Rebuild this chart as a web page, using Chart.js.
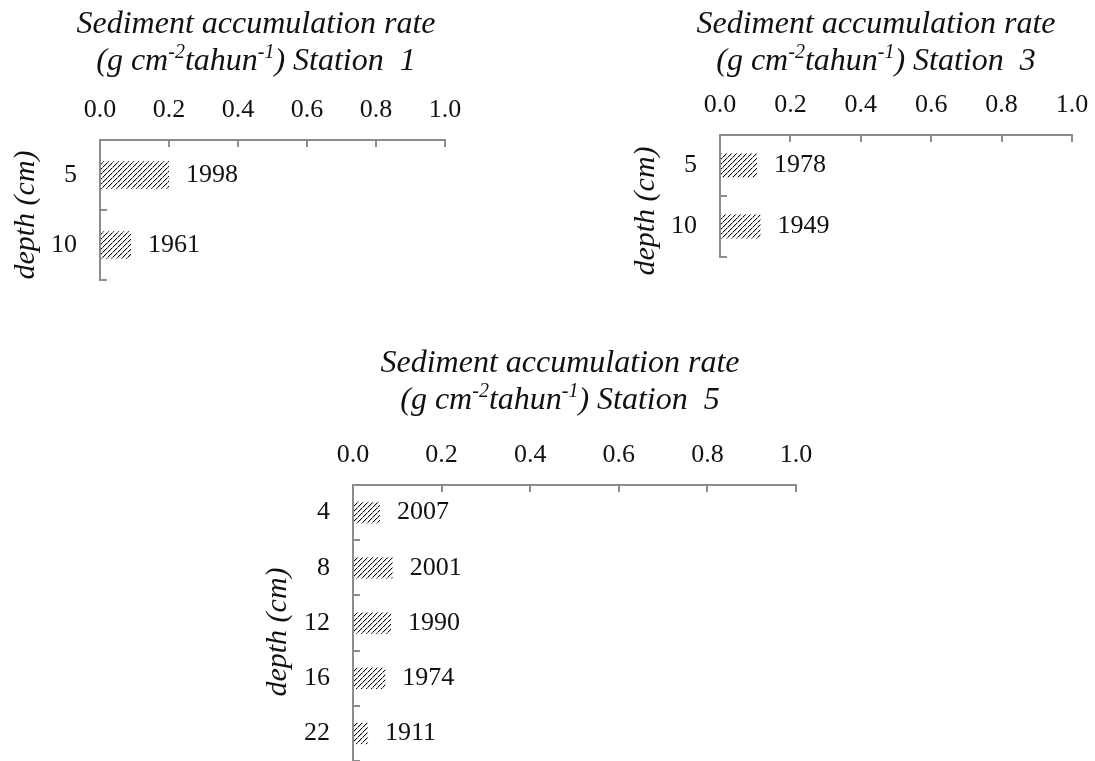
<!DOCTYPE html>
<html><head><meta charset="utf-8">
<script src="https://cdn.jsdelivr.net/npm/chart.js@4.4.1/dist/chart.umd.min.js"></script>
<style>
html,body{margin:0;padding:0;background:#fff;overflow:hidden;width:1095px;height:761px;}
canvas{position:absolute;left:0;top:0;}
</style></head><body>
<canvas id="c1" width="1095" height="761"></canvas>
<canvas id="c3" width="1130" height="761"></canvas>
<canvas id="c5" width="1095" height="830"></canvas>
<script>
// ---- data ----
const rateTickValues = [0.0, 0.2, 0.4, 0.6, 0.8, 1.0];
const st1Depths = ['5', '10'];
const st1Rates  = [0.20, 0.09];
const st1Years  = ['1998', '1961'];
const st3Depths = ['5', '10'];
const st3Rates  = [0.105, 0.115];
const st3Years  = ['1978', '1949'];
const st5Depths = ['4', '8', '12', '16', '22'];
const st5Rates  = [0.061, 0.090, 0.086, 0.073, 0.034];
const st5Years  = ['2007', '2001', '1990', '1974', '1911'];

const SERIF = "'Liberation Serif', 'Times New Roman', serif";
const AXIS = '#8c8c8c';
const INK = '#111111';

function hatchFor(ctx) {
  const c = document.createElement('canvas');
  c.width = 5; c.height = 5;
  const g = c.getContext('2d');
  g.fillStyle = '#fff'; g.fillRect(0, 0, 5, 5);
  for (let i = 0; i < 5; i++) {
    g.fillStyle = (i === 2) ? 'rgba(0,0,0,0.55)' : '#000';
    g.fillRect(i, 4 - i, 1, 1);
    g.fillStyle = 'rgba(0,0,0,0.18)';
    g.fillRect(i, (5 - i) % 5, 1, 1);
  }
  return ctx.createPattern(c, 'repeat');
}

const richTitle = {
  id: 'richTitle',
  afterDraw(chart, args, o) {
    const ctx = chart.ctx;
    ctx.save();
    ctx.fillStyle = INK;
    ctx.textBaseline = 'alphabetic';
    ctx.textAlign = 'left';
    const f = (sup) => `italic ${sup ? Math.round(o.size * 0.62) : o.size}px ${SERIF}`;
    o.lines.forEach((segs, i) => {
      let total = 0;
      segs.forEach(s => { ctx.font = f(s.sup); total += ctx.measureText(s.t).width; });
      let x = o.x - total / 2;
      const y = o.y + i * o.gap;
      segs.forEach(s => {
        ctx.font = f(s.sup);
        ctx.fillText(s.t, x, s.sup ? y - o.size * 0.36 : y);
        x += ctx.measureText(s.t).width;
      });
    });
    ctx.restore();
  }
};

const sideTitle = {
  id: 'sideTitle',
  afterDraw(chart, args, o) {
    const ctx = chart.ctx;
    ctx.save();
    ctx.translate(o.x, o.y);
    ctx.rotate(-Math.PI / 2);
    ctx.font = `italic ${o.size}px ${SERIF}`;
    ctx.fillStyle = INK;
    ctx.textAlign = 'center';
    ctx.textBaseline = 'middle';
    ctx.fillText(o.text, 0, 0);
    ctx.restore();
  }
};

const yearLabels = {
  id: 'yearLabels',
  afterDatasetsDraw(chart, args, o) {
    const ctx = chart.ctx;
    const meta = chart.getDatasetMeta(0);
    ctx.save();
    ctx.font = `${o.size}px ${SERIF}`;
    ctx.fillStyle = INK;
    ctx.textAlign = 'left';
    ctx.textBaseline = 'middle';
    meta.data.forEach((bar, i) => ctx.fillText(o.labels[i], bar.x + o.gap, bar.y));
    ctx.restore();
  }
};

function makeChart(id, depths, rates, years, station, g) {
  const canvas = document.getElementById(id);
  const ctx = canvas.getContext('2d');
  return new Chart(ctx, {
    type: 'bar',
    data: {
      labels: depths,
      datasets: [{
        data: rates,
        backgroundColor: hatchFor(ctx),
        borderWidth: 0,
        barPercentage: 0.39,
        categoryPercentage: 1.0
      }]
    },
    options: {
      indexAxis: 'y',
      responsive: false,
      animation: false,
      devicePixelRatio: 1,
      layout: { padding: g.padding },
      scales: {
        x: {
          position: 'top',
          min: 0, max: 1,
          afterBuildTicks: (s) => { s.ticks = rateTickValues.map(v => ({ value: v })); },
          afterFit: (s) => { s.height = 60; },
          ticks: {
            callback: (v) => Number(v).toFixed(1),
            font: { family: SERIF, size: 26 },
            color: INK,
            padding: 21,
            maxRotation: 0
          },
          grid: { drawOnChartArea: false, drawTicks: true, tickLength: -7, color: AXIS, lineWidth: 2 },
          border: { display: true, color: AXIS, width: 2 }
        },
        y: {
          afterFit: (s) => { s.width = 60; },
          ticks: {
            font: { family: SERIF, size: 26 },
            color: INK,
            padding: 30
          },
          grid: { drawOnChartArea: false, drawTicks: true, tickLength: -7, color: AXIS, lineWidth: 2, offset: true },
          border: { display: true, color: AXIS, width: 2 }
        }
      },
      plugins: {
        legend: { display: false },
        tooltip: { enabled: false },
        richTitle: {
          x: g.titleX, y: g.titleY, gap: 37, size: 32,
          lines: [
            [{ t: 'Sediment accumulation rate' }],
            [{ t: '(g cm' }, { t: '-2', sup: true }, { t: 'tahun' }, { t: '-1', sup: true }, { t: ') Station  ' + station }]
          ]
        },
        sideTitle: { x: g.sideX, y: g.sideY, size: 30, text: 'depth (cm)' },
        yearLabels: { labels: years, gap: 17, size: 26 }
      }
    },
    plugins: [richTitle, sideTitle, yearLabels]
  });
}

makeChart('c1', st1Depths, st1Rates, st1Years, '1', {
  padding: { left: 40, top: 80, right: 650, bottom: 481 },
  titleX: 256, titleY: 33, sideX: 26, sideY: 215
});
makeChart('c3', st3Depths, st3Rates, st3Years, '3', {
  padding: { left: 660, top: 75, right: 1130 - 1072, bottom: 504 },
  titleX: 876, titleY: 33, sideX: 646, sideY: 211
});
makeChart('c5', st5Depths, st5Rates, st5Years, '5', {
  padding: { left: 293, top: 425, right: 299, bottom: 830 - 761 },
  titleX: 560, titleY: 372, sideX: 278, sideY: 632
});
</script>
</body></html>
